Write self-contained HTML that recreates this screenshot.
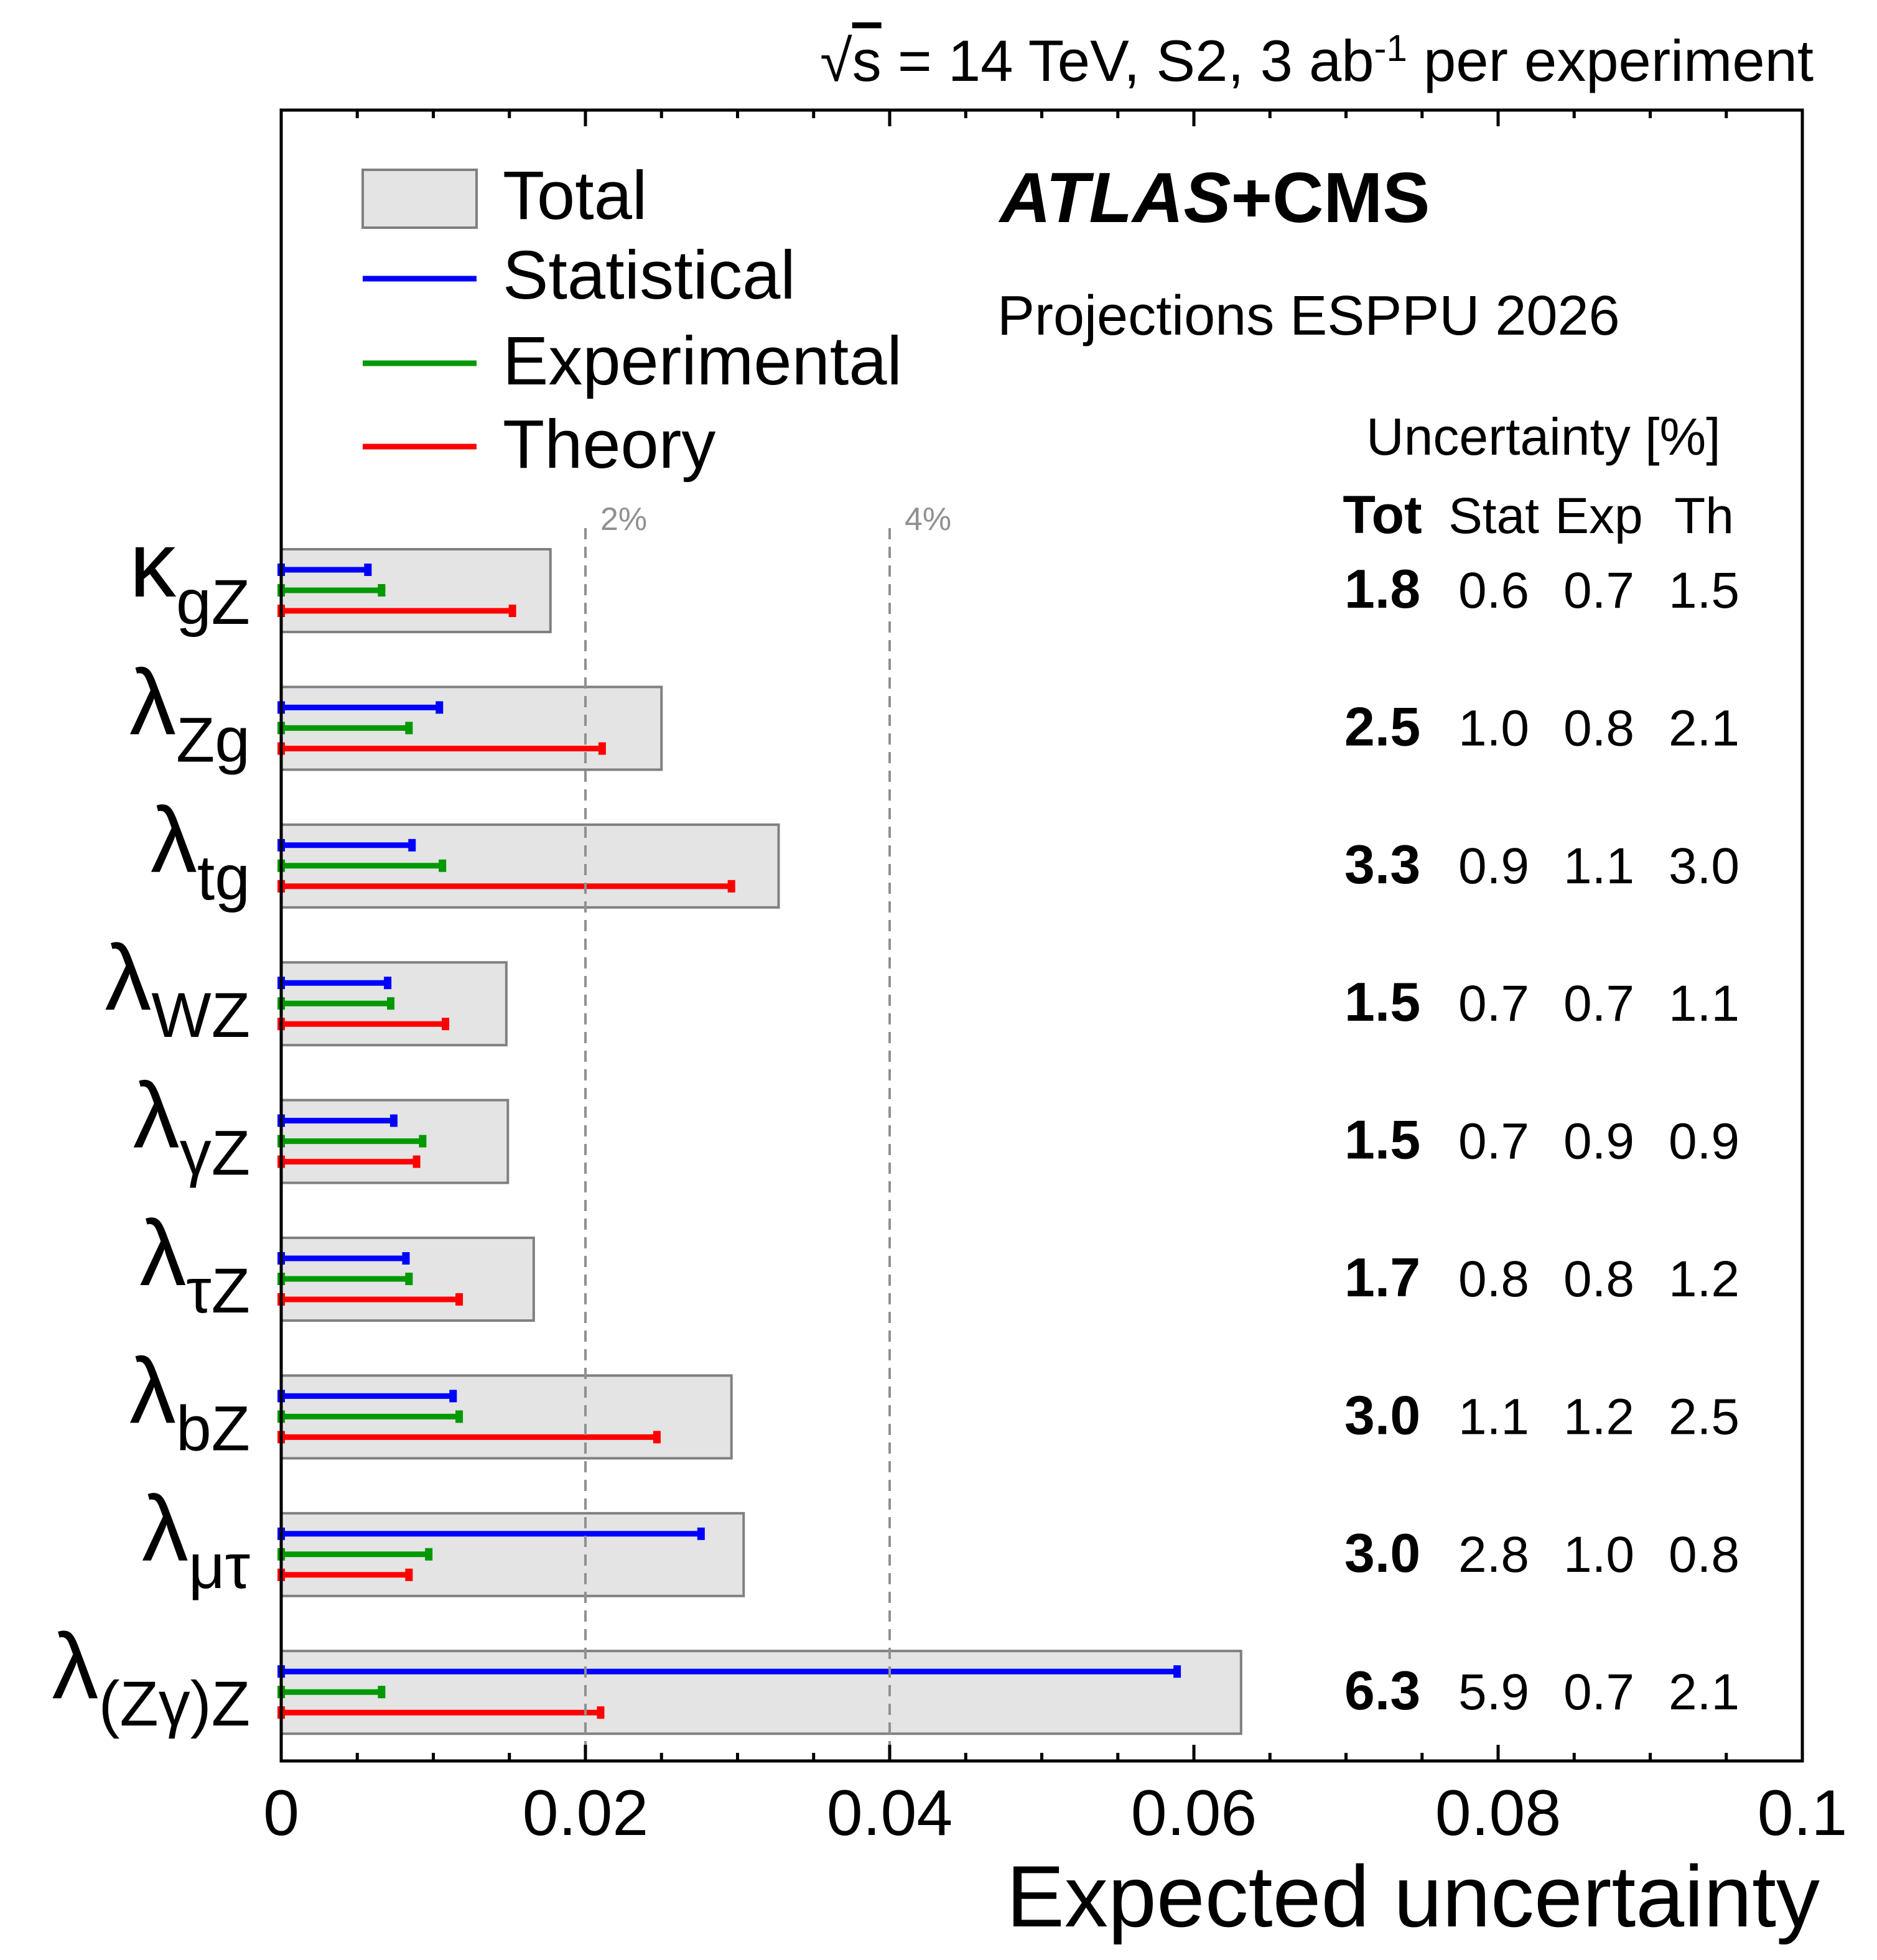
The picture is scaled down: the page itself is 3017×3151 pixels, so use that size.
<!DOCTYPE html>
<html><head><meta charset="utf-8"><style>body{margin:0;background:#fff}svg{display:block;font-family:"Liberation Sans",sans-serif}</style></head>
<body>
<svg id="chart" width="3017" height="3151" viewBox="0 0 3017 3151">
<text x="2915" y="130" font-size="94" text-anchor="end">√<tspan style="text-decoration:overline">s</tspan> = 14 TeV, S2, 3 ab<tspan dy="-32" font-size="60">-1</tspan><tspan dy="32"> per experiment</tspan></text>
<g id="plot"></g>
<g>
<rect x="583" y="273" width="183" height="93" fill="#e4e4e4" stroke="#808080" stroke-width="4"/>
<text x="808" y="352" font-size="110">Total</text>
<line x1="583" y1="448" x2="766" y2="448" stroke="#0000ff" stroke-width="9"/>
<text x="808" y="480" font-size="110">Statistical</text>
<line x1="583" y1="584" x2="766" y2="584" stroke="#009900" stroke-width="9"/>
<text x="808" y="618" font-size="110">Experimental</text>
<line x1="583" y1="718" x2="766" y2="718" stroke="#ff0000" stroke-width="9"/>
<text x="808" y="752" font-size="110">Theory</text>
</g>
<text x="1607" y="357" font-size="114" font-weight="bold"><tspan font-style="italic">ATLAS</tspan>+CMS</text>
<text x="1603" y="538" font-size="90">Projections ESPPU 2026</text>
<text x="2196" y="731" font-size="84">Uncertainty [%]</text>
<g font-size="82" text-anchor="middle">
<text x="2222" y="857" font-weight="bold" font-size="86">Tot</text><text x="2401" y="857">Stat</text><text x="2570" y="857">Exp</text><text x="2739" y="857">Th</text>
</g>
<text x="2925" y="3097" font-size="140" text-anchor="end">Expected uncertainty</text>
</svg>
<script>
const labels = ["κ|gZ","λ|Zg","λ|tg","λ|WZ","λ|γZ","λ|τZ","λ|bZ","λ|μτ","λ|(Zγ)Z"];
const totVals = [1.77,2.5,3.27,1.48,1.49,1.66,2.96,3.04,6.31];
const statVals = [0.57,1.04,0.86,0.70,0.74,0.82,1.13,2.76,5.89];
const expVals = [0.66,0.84,1.06,0.72,0.93,0.84,1.17,0.97,0.66];
const thVals = [1.52,2.11,2.96,1.08,0.89,1.17,2.47,0.84,2.10];
const xTicks = [0,0.02,0.04,0.06,0.08,0.1];
const xTickLabels = ["0","0.02","0.04","0.06","0.08","0.1"];
const refLines = [0.02,0.04];
const refLabels = ["2%","4%"];

const NS="http://www.w3.org/2000/svg";
const L=452,R=2897,T=177,B=2831;
const X=v=>L+(v/0.1)*(R-L);
const rowY=i=>949+i*221.4;
const g=document.getElementById('plot');
function mk(t,a,p){const e=document.createElementNS(NS,t);for(const k in a)e.setAttribute(k,a[k]);(p||g).appendChild(e);return e;}
const fmt=v=>v.toFixed(1);
const series=[[statVals,"#0000ff",-33,"stat-bar"],[expVals,"#009900",0,"exp-bar"],[thVals,"#ff0000",33,"theory-bar"]];
labels.forEach((lab,i)=>{
  const y=rowY(i);
  const r=mk('rect',{x:X(0),y:y-66,width:X(totVals[i]/100)-X(0),height:133,fill:'#e4e4e4',stroke:'#808080','stroke-width':4});
  
  
  series.forEach(([arr,c,dy,nm])=>{
    const x2=X(arr[i]/100);
    const ln=mk('line',{x1:X(0),y1:y+dy,x2:x2,y2:y+dy,stroke:c,'stroke-width':9});
    
    
    mk('rect',{x:X(0)-6,y:y+dy-10,width:12,height:20,fill:c});
    mk('rect',{x:x2-6,y:y+dy-10,width:12,height:20,fill:c});
  });
  const [a,b]=lab.split('|');
  const tx=mk('text',{x:402,y:y+10,'text-anchor':'end','font-size':150});
  
  
  tx.innerHTML=a+'<tspan font-size="102" dy="44">'+b+'</tspan>';
  const cols=[[totVals,2222,'bold',88],[statVals,2401,'normal',82],[expVals,2570,'normal',82],[thVals,2739,'normal',82]];
  cols.forEach(([arr,cx,w,fs])=>{
    const t=mk('text',{x:cx,y:y+28,'text-anchor':'middle','font-size':fs,'font-weight':w});
    
    
    t.textContent=fmt(arr[i]);
  });
});
refLines.forEach((v,i)=>{
  const l=mk('line',{x1:X(v),y1:849,x2:X(v),y2:B,stroke:'#909090','stroke-width':4,'stroke-dasharray':'18 12'});
  
  
  const t=mk('text',{x:X(v)+24,y:852,'font-size':52,fill:'#909090'});
  
  
  t.textContent=refLabels[i];
});
const f=mk('rect',{x:L,y:T,width:R-L,height:B-T,fill:'none',stroke:'#000','stroke-width':5});


for(let k=0;k<=20;k++){const v=k*0.005;const len=(k%4==0)?26:13;
  mk('line',{x1:X(v),y1:B,x2:X(v),y2:B-len,stroke:'#000','stroke-width':5});
  mk('line',{x1:X(v),y1:T,x2:X(v),y2:T+len,stroke:'#000','stroke-width':5});}
xTicks.forEach((v,i)=>{
  const t=mk('text',{x:X(v),y:2950,'text-anchor':'middle','font-size':104});
  
  
  t.textContent=xTickLabels[i];
});
</script>
</body></html>
